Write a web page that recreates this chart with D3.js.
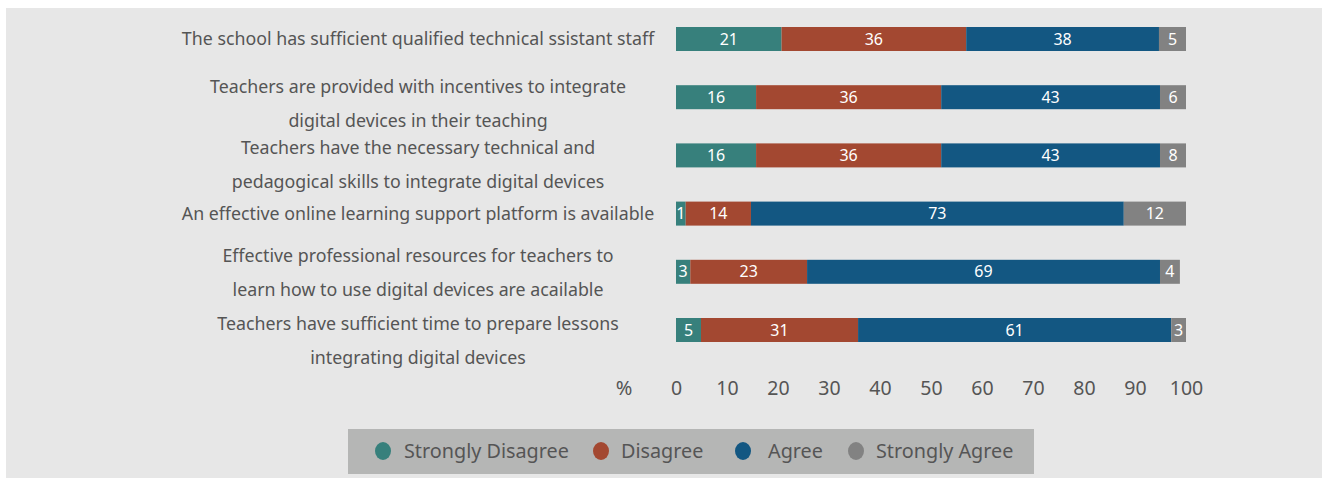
<!DOCTYPE html>
<html>
<head>
<meta charset="utf-8">
<script src="https://cdn.jsdelivr.net/npm/d3@7"></script>
<style>
  body { margin: 0; background: #ffffff; }
  svg { display: block; font-family: "Noto Sans", sans-serif; }
</style>
</head>
<body>
<svg id="chart" width="1324" height="479"></svg>
<script>
// statements, top to bottom (two-line ones split with |)
const statements = [
  "The school has sufficient qualified technical ssistant staff",
  "Teachers are provided with incentives to integrate|digital devices in their teaching",
  "Teachers have the necessary technical and|pedagogical skills to integrate digital devices",
  "An effective online learning support platform is available",
  "Effective professional resources for teachers to|learn how to use digital devices are acailable",
  "Teachers have sufficient time to prepare lessons|integrating digital devices"
];

const seriesNames = ["Strongly Disagree", "Disagree", "Agree", "Strongly Agree"];

// segment widths (%)
const stronglyDisagree = [20.7, 15.7, 15.7, 1.9, 2.8, 4.9];
const disagree         = [36.2, 36.3, 36.3, 12.8, 22.9, 30.8];
const agree            = [37.8, 42.9, 42.9, 73.1, 69.2, 61.4];
const stronglyAgree    = [5.3, 5.1, 5.1, 12.2, 3.9, 2.9];

// numbers printed on the segments
const stronglyDisagreeLbl = [21, 16, 16, 1, 3, 5];
const disagreeLbl         = [36, 36, 36, 14, 23, 31];
const agreeLbl            = [38, 43, 43, 73, 69, 61];
const stronglyAgreeLbl    = [5, 6, 8, 12, 4, 3];

const ticks = [0, 10, 20, 30, 40, 50, 60, 70, 80, 90, 100];

const colors = ["#37807c", "#a34831", "#135782", "#828282"];
const textCol = "#555555";

const values = [stronglyDisagree, disagree, agree, stronglyAgree];
const labels = [stronglyDisagreeLbl, disagreeLbl, agreeLbl, stronglyAgreeLbl];

// first-line shift for wrapped labels (px, relative to bar centre)
const labelShift = [0, -10, -8, 0, -16, -6];

const svg = d3.select("#chart");

svg.append("rect")
  .attr("x", 6).attr("y", 8)
  .attr("width", 1316).attr("height", 470)
  .attr("fill", "#e7e7e7");

const x = d3.scaleLinear().domain([0, 100]).range([676, 1186]);
const y = d3.scalePoint().domain(d3.range(statements.length)).range([39, 330]);
const barH = 24;

// stack the rows
const rows = statements.map(function (s, i) {
  let acc = 0;
  return values.map(function (v, k) {
    const seg = { row: i, k: k, x0: acc, x1: acc + v[i], lbl: labels[k][i] };
    acc += v[i];
    return seg;
  });
});
const segs = rows.flat();

svg.append("g").selectAll("rect")
  .data(segs)
  .join("rect")
  .attr("x", d => x(d.x0))
  .attr("y", d => y(d.row) - barH / 2)
  .attr("width", d => x(d.x1) - x(d.x0))
  .attr("height", barH)
  .attr("fill", d => colors[d.k]);

svg.append("g").selectAll("text")
  .data(segs)
  .join("text")
  .attr("x", d => (x(d.x0) + x(d.x1)) / 2)
  .attr("y", d => y(d.row))
  .attr("dy", "0.35em")
  .attr("text-anchor", "middle")
  .attr("fill", "#ffffff")
  .style("font-size", "16px")
  .text(d => d.lbl);

// category labels
const cat = svg.append("g").selectAll("text")
  .data(statements)
  .join("text")
  .attr("text-anchor", "middle")
  .attr("fill", textCol)
  .style("font-size", "17.8px");

cat.each(function (s, i) {
  const lines = s.split("|");
  const t = d3.select(this);
  lines.forEach(function (line, j) {
    t.append("tspan")
      .attr("x", 418)
      .attr("y", y(i) + (lines.length > 1 ? labelShift[i] : 0) + j * 34)
      .attr("dy", "0.35em")
      .text(line);
  });
});

// x axis
const axis = svg.append("g")
  .attr("transform", "translate(0,378)")
  .call(d3.axisBottom(x).tickValues(ticks).tickSize(0).tickPadding(0));
axis.select(".domain").remove();
axis.selectAll("text")
  .attr("dy", "0.35em")
  .attr("y", 10)
  .attr("fill", textCol)
  .style("font-family", "'Noto Sans', sans-serif")
  .style("font-size", "19.5px");

svg.append("text")
  .attr("x", 624).attr("y", 388)
  .attr("dy", "0.35em")
  .attr("text-anchor", "middle")
  .attr("fill", textCol)
  .style("font-size", "20px")
  .text("%");

// legend
svg.append("rect")
  .attr("x", 348).attr("y", 429)
  .attr("width", 686).attr("height", 45)
  .attr("fill", "#b5b6b5");

const legendX = [383, 601, 743, 856];
const legendTextX = [404, 621, 768, 876];
const lg = svg.append("g").selectAll("g")
  .data(seriesNames)
  .join("g");

lg.append("ellipse")
  .attr("cx", (d, i) => legendX[i])
  .attr("cy", 451)
  .attr("rx", 8).attr("ry", 9)
  .attr("fill", (d, i) => colors[i]);

lg.append("text")
  .attr("x", (d, i) => legendTextX[i])
  .attr("y", 451)
  .attr("dy", "0.35em")
  .attr("fill", textCol)
  .style("font-size", "19.8px")
  .text(d => d);
</script>
</body>
</html>
